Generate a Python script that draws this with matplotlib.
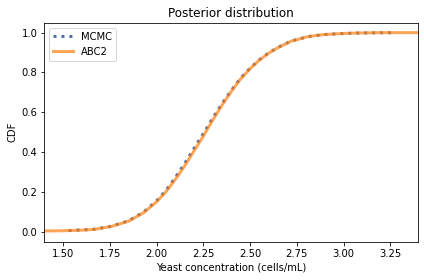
import numpy as np
import matplotlib
matplotlib.use("Agg")
import matplotlib.pyplot as plt

# CDF values
mcmc_x = [1.53, 1.60, 1.67, 1.76, 1.85, 1.93, 2.00, 2.05, 2.10, 2.15, 2.20, 2.25,
          2.30, 2.35, 2.40, 2.45, 2.50, 2.55, 2.60, 2.65, 2.72, 2.81, 2.89, 2.98,
          3.07, 3.17, 3.28]
mcmc_y = [0.006, 0.009, 0.013, 0.028, 0.055, 0.098, 0.155, 0.207, 0.272, 0.342,
          0.418, 0.492, 0.570, 0.643, 0.710, 0.772, 0.821, 0.864, 0.898, 0.926,
          0.958, 0.980, 0.990, 0.995, 0.998, 0.999, 1.000]

abc2_x = [1.40, 1.50, 1.60, 1.67, 1.76, 1.85, 1.93, 2.00, 2.05, 2.10, 2.15, 2.20,
          2.25, 2.30, 2.35, 2.40, 2.45, 2.50, 2.55, 2.60, 2.65, 2.72, 2.81, 2.89,
          2.98, 3.07, 3.20, 3.40]
abc2_y = [0.004, 0.005, 0.008, 0.012, 0.027, 0.053, 0.095, 0.150, 0.200, 0.262,
          0.330, 0.405, 0.480, 0.560, 0.635, 0.705, 0.768, 0.818, 0.862, 0.897,
          0.925, 0.957, 0.980, 0.990, 0.995, 0.998, 1.000, 1.000]

fig = plt.figure(figsize=(424/72, 280/72), dpi=72)
fig.subplots_adjust(left=44.3/424, right=418.3/424, top=1-22.7/280, bottom=1-241.7/280)
ax = fig.add_subplot(111)

ax.plot(mcmc_x, mcmc_y, ':', color='#4c72b0', linewidth=3, label='MCMC')
ax.plot(abc2_x, abc2_y, '-', color='#ff7f0e', alpha=0.7, linewidth=3, label='ABC2')

ax.set_xlim(1.4, 3.4)
ax.set_ylim(-0.05, 1.05)
ax.set_xticks(np.arange(1.5, 3.3, 0.25))
ax.set_xlabel('Yeast concentration (cells/mL)')
ax.set_ylabel('CDF')
ax.set_title('Posterior distribution')
ax.legend(loc='upper left')

fig.savefig("out.png", dpi=72)
